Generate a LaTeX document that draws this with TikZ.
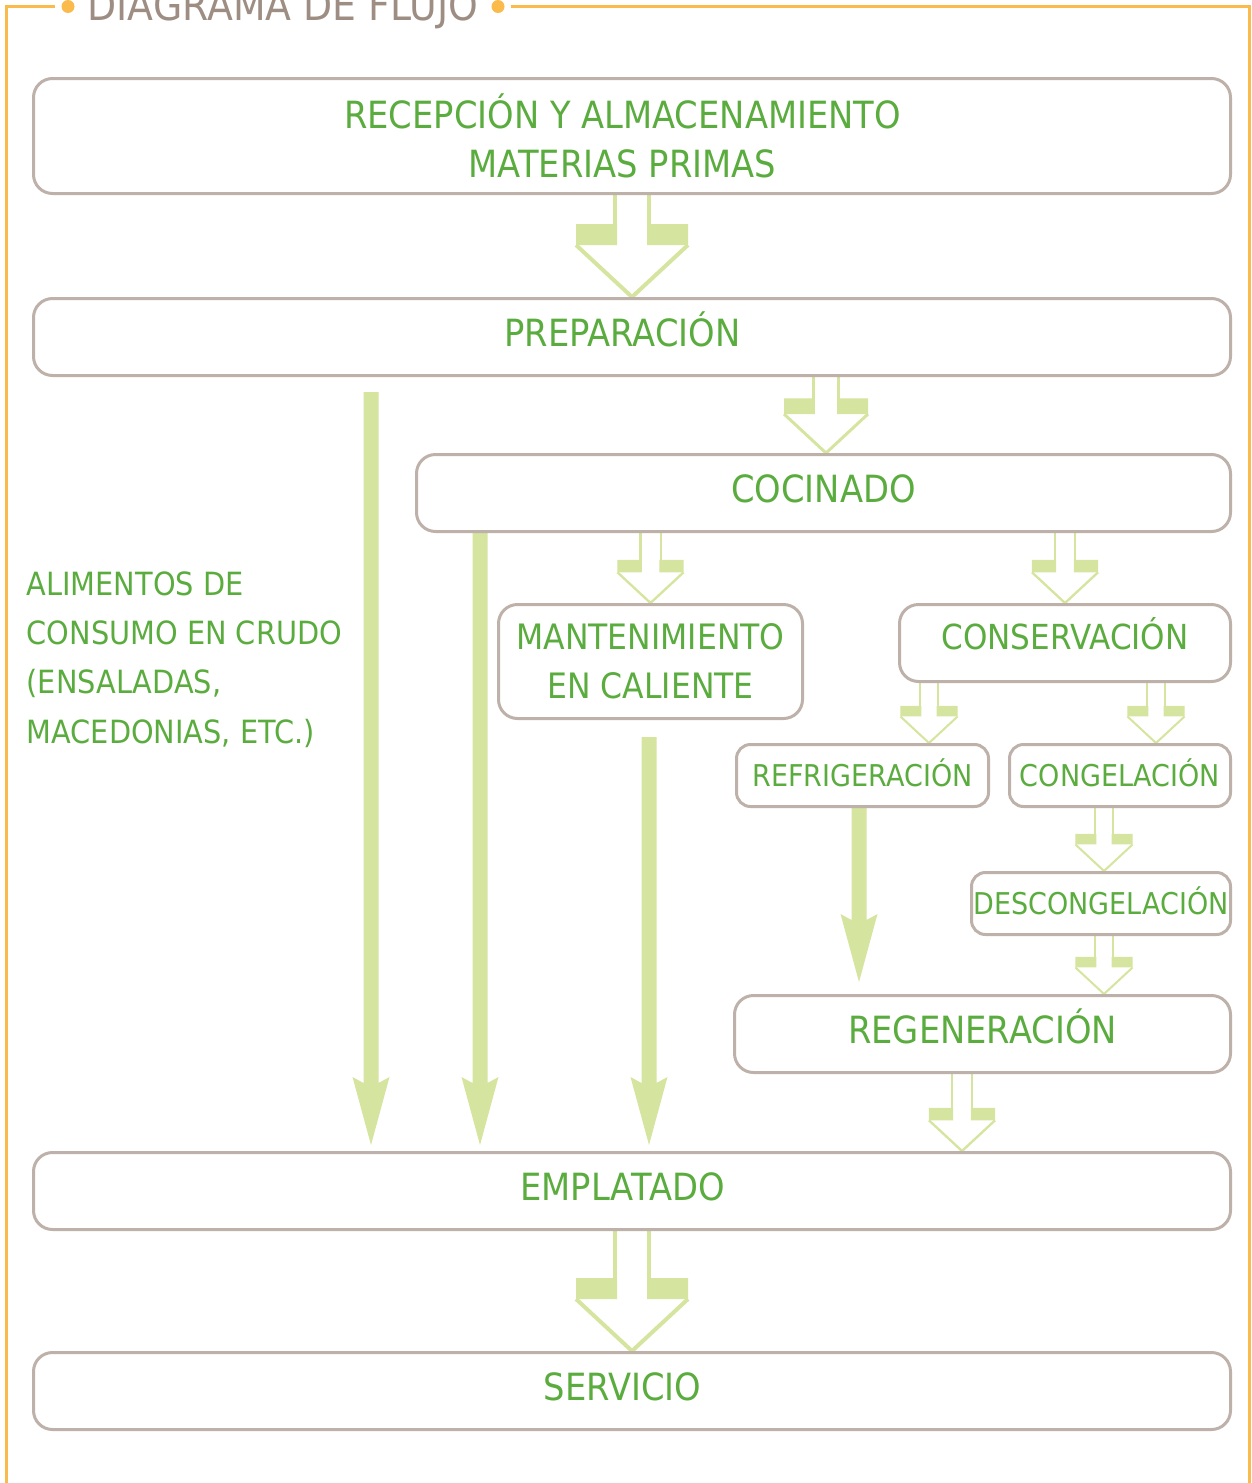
\documentclass[tikz,border=0pt]{standalone}
\usepackage{fontspec}
\newfontfamily\letra[FakeStretch=0.9]{DejaVu Sans}
\usepackage{tikz}
\usetikzlibrary{calc, backgrounds}

\definecolor{verdetexto}{RGB}{91,172,62}
\definecolor{verdeflecha}{RGB}{213,228,158}
\definecolor{bordecaja}{RGB}{189,177,169}
\definecolor{naranja}{RGB}{251,186,76}
\definecolor{gristitulo}{RGB}{157,141,131}

% flecha hueca: #1 ancla de salida, #2 punta, #3 escala
\newcommand{\flechahueca}[3]{%
  \begin{scope}[shift={#2}, scale=#3]
    \fill[verdeflecha] (-56,-73) rectangle (-15,-52) (15,-73) rectangle (56,-52);
    \draw[verdeflecha, line width=#3*4pt] (-56,-52) -- (0,0) -- (56,-52);
    \draw[verdeflecha, line width=#3*3.5pt] (-17,-52) -- (#1 -| -17,0) (17,-52) -- (#1 -| 17,0);
  \end{scope}}

% flecha llena: #1 salida, #2 punta
\newcommand{\flechallena}[2]{%
  \fill[verdeflecha] let \p1=#1, \p2=#2 in
    (\x2-7.5pt,\y1) -- (\x2-7.5pt,\y2+62pt) -- (\x2-18.5pt,\y2+68pt) -- (\x2,\y2)
    -- (\x2+18.5pt,\y2+68pt) -- (\x2+7.5pt,\y2+62pt) -- (\x2+7.5pt,\y1) -- cycle;}

% texto corrido a la izquierda en las cajas anchas
\newcommand{\izq}{\hspace*{19pt}}

\begin{document}
\begin{tikzpicture}[x=1pt, y=-1pt,
    caja/.style={draw=bordecaja, line width=3pt, rounded corners=19pt, fill=white,
      text=verdetexto, inner sep=0pt},
    cajachica/.style={caja, rounded corners=14pt},
    grande/.style={font=\letra\fontsize{37.5}{49}\selectfont, text height=27.3pt, text depth=9pt},
    grande2/.style={font=\letra\fontsize{37.5}{49}\selectfont, align=center},
    medio/.style={font=\letra\fontsize{34.5}{49}\selectfont, text height=25pt, text depth=13pt},
    medio2/.style={font=\letra\fontsize{35}{49}\selectfont, align=center},
    chico/.style={font=\letra\fontsize{30}{40}\selectfont, text height=21.9pt, text depth=0pt},
    marco/.style={draw=naranja, line width=3pt}]

  \useasboundingbox (0,0) rectangle (1252,1483);

  % marco y titulo
  \draw[marco] (55,6.5) -- (6.5,6.5) -- (6.5,1483);
  \draw[marco] (511,6.5) -- (1249.5,6.5) -- (1249.5,1483);
  \fill[naranja] (68,6.5) circle (6.5pt) (498,6.5) circle (6.5pt);
  \node[anchor=base west, inner sep=0pt, text=gristitulo,
    font=\letra\fontsize{42}{49}\selectfont] (titulo) at (87.5,20) {DIAGRAMA DE FLUJO};

  % cajas
  \node[caja, grande2, minimum width=1197, minimum height=115] (recepcion) at (632,136)
    {RECEPCIÓN Y ALMACENAMIENTO\izq\\MATERIAS PRIMAS\izq};
  \node[caja, grande, minimum width=1197, minimum height=77] (preparacion) at (632,337) {PREPARACIÓN\izq};
  \node[caja, grande, minimum width=814, minimum height=77] (cocinado) at (823.5,493) {COCINADO};
  \node[caja, medio2, minimum width=304, minimum height=114] (mantenimiento) at (650.5,661.5)
    {MANTENIMIENTO\\EN CALIENTE};
  \node[caja, medio, minimum width=331, minimum height=77] (conservacion) at (1065,643) {CONSERVACIÓN};
  \node[cajachica, chico, minimum width=252, minimum height=62] (refrigeracion) at (862.5,775.5) {REFRIGERACIÓN};
  \node[cajachica, chico, minimum width=221, minimum height=62] (congelacion) at (1120,775.5) {CONGELACIÓN};
  \node[cajachica, chico, minimum width=259, minimum height=62] (descongelacion) at (1101,903.5) {DESCONGELACIÓN};
  \node[caja, grande, minimum width=496, minimum height=77] (regeneracion) at (982.5,1034) {REGENERACIÓN};
  \node[caja, grande, minimum width=1197, minimum height=77] (emplatado) at (632,1191) {EMPLATADO\izq};
  \node[caja, grande, minimum width=1197, minimum height=77] (servicio) at (632,1391) {SERVICIO\izq};

  \node[anchor=north west, inner sep=0pt, align=left, text=verdetexto,
    font=\letra\fontsize{32}{49.3}\selectfont] (crudo) at (26.5,571.3)
    {ALIMENTOS DE\\CONSUMO EN CRUDO\\(ENSALADAS,\\MACEDONIAS, ETC.)};

  % flechas
  \begin{scope}[on background layer]
    \flechahueca{recepcion.south}{(preparacion.north)}{1}
    \flechahueca{preparacion.south}{(cocinado.north -| 826,0)}{0.75}
    \flechahueca{cocinado.south}{(mantenimiento.north)}{0.59}
    \flechahueca{cocinado.south}{(conservacion.north)}{0.59}
    \flechahueca{conservacion.south}{(refrigeracion.north -| 929,0)}{0.51}
    \flechahueca{conservacion.south}{(congelacion.north -| 1156,0)}{0.51}
    \flechahueca{congelacion.south}{(descongelacion.north -| 1104,0)}{0.51}
    \flechahueca{descongelacion.south}{(regeneracion.north -| 1104,0)}{0.51}
    \flechahueca{regeneracion.south}{(emplatado.north -| 962,0)}{0.59}
    \flechahueca{emplatado.south}{(servicio.north)}{1}

    \flechallena{($(preparacion.south -| 371,0)+(0,15)$)}{($(emplatado.north -| 371,0)+(0,-6)$)}
    \flechallena{(cocinado.south -| 480,0)}{($(emplatado.north -| 480,0)+(0,-6)$)}
    \flechallena{($(mantenimiento.south -| 649,0)+(0,17)$)}{($(emplatado.north -| 649,0)+(0,-6)$)}
    \flechallena{(refrigeracion.south -| 859,0)}{($(regeneracion.north -| 859,0)+(0,-12)$)}
  \end{scope}
\end{tikzpicture}
\end{document}
